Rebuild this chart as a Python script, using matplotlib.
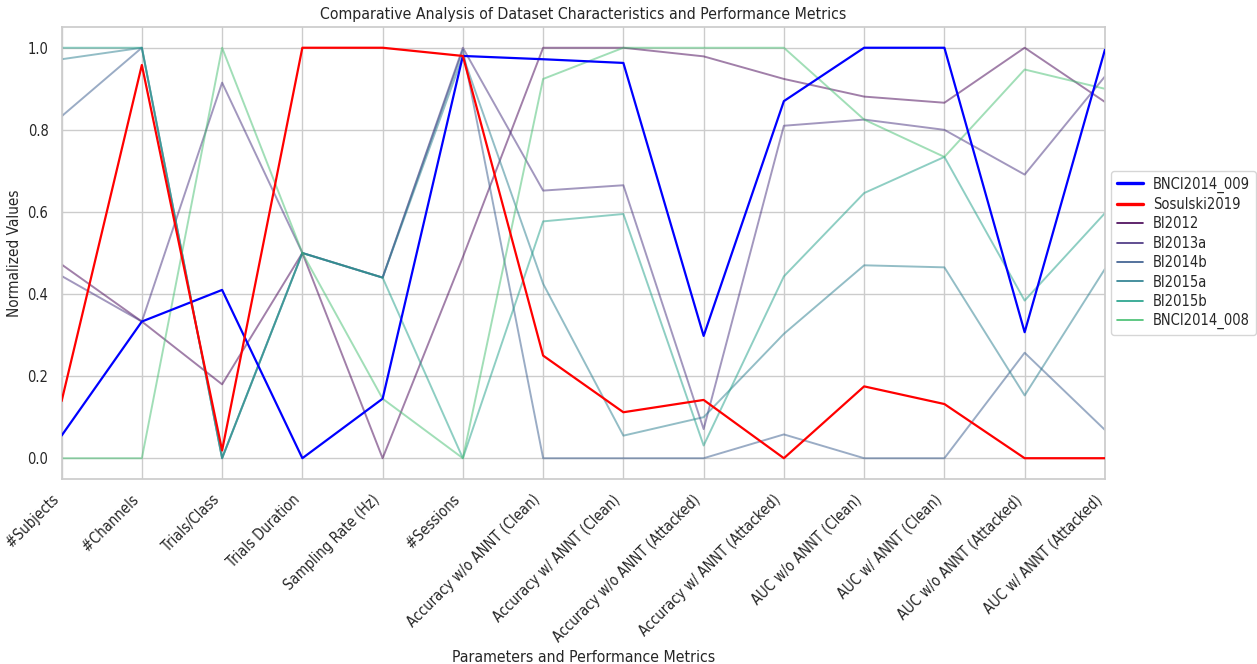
import matplotlib
matplotlib.use("Agg")
import matplotlib.pyplot as plt
import seaborn as sns
import numpy as np
from matplotlib.lines import Line2D

# Data (normalized values)

METRICS = ['#Subjects', '#Channels', 'Trials/Class', 'Trials Duration', 'Sampling Rate (Hz)',
           '#Sessions', 'Accuracy w/o ANNT (Clean)', 'Accuracy w/ ANNT (Clean)',
           'Accuracy w/o ANNT (Attacked)', 'Accuracy w/ ANNT (Attacked)',
           'AUC w/o ANNT (Clean)', 'AUC w/ ANNT (Clean)',
           'AUC w/o ANNT (Attacked)', 'AUC w/ ANNT (Attacked)']

BNCI2014_009 = [0.055, 0.333, 0.41, 0.0, 0.145, 0.98, 0.972, 0.963, 0.298, 0.87, 1.0, 1.0, 0.307, 0.995]
Sosulski2019 = [0.139, 0.958, 0.019, 1.0, 1.0, 0.98, 0.25, 0.112, 0.142, 0.0, 0.175, 0.132, 0.0, 0.0]
BI2012 = [0.472, 0.333, 0.18, 0.5, 0.0, 0.49, 1.0, 1.0, 0.979, 0.924, 0.881, 0.866, 1.0, 0.868]
BI2013a = [0.444, 0.333, 0.915, 0.5, 0.44, 1.0, 0.652, 0.665, 0.071, 0.81, 0.825, 0.8, 0.691, 0.93]
BI2014b = [0.833, 1.0, 0.0, 0.5, 0.44, 0.995, 0.0, 0.0, 0.0, 0.058, 0.0, 0.0, 0.257, 0.069]
BI2015a = [0.972, 1.0, 0.0, 0.5, 0.44, 0.98, 0.425, 0.055, 0.1, 0.303, 0.47, 0.465, 0.153, 0.461]
BI2015b = [1.0, 1.0, 0.0, 0.5, 0.44, 0.0, 0.577, 0.595, 0.031, 0.443, 0.646, 0.734, 0.384, 0.597]
BNCI2014_008 = [0.0, 0.0, 1.0, 0.5, 0.145, 0.0, 0.924, 1.0, 1.0, 1.0, 0.825, 0.734, 0.947, 0.9]

highlighted = {'BNCI2014_009': (BNCI2014_009, 'blue'),
               'Sosulski2019': (Sosulski2019, 'red')}
others = {'BI2012': BI2012, 'BI2013a': BI2013a, 'BI2014b': BI2014b,
          'BI2015a': BI2015a, 'BI2015b': BI2015b, 'BNCI2014_008': BNCI2014_008}

sns.set_theme(style="whitegrid")
plt.rcParams['font.family'] = ['DejaVu Sans']
plt.rcParams['font.stretch'] = 'condensed'

fig = plt.figure(figsize=(12.57, 6.64), dpi=100)
ax = fig.add_axes([0.049, 0.279, 0.830, 0.680])

x = np.arange(len(METRICS))
other_colors = plt.cm.viridis(np.linspace(0, 0.7, len(others)))

handles = []
for name, (vals, col) in highlighted.items():
    ax.plot(x, vals, color=col, linewidth=1.6, zorder=3)
    handles.append(Line2D([0], [0], color=col, linewidth=2.4, label=name))

for (name, vals), col in zip(others.items(), other_colors):
    ax.plot(x, vals, color=col, linewidth=1.4, alpha=0.5, zorder=2)
    handles.append(Line2D([0], [0], color=col, linewidth=1.2, label=name))

ax.set_xlim(0, len(METRICS) - 1)
ax.set_ylim(-0.05, 1.05)
ax.set_xticks(x)
ax.set_xticklabels(METRICS, rotation=45, ha='right', fontsize=10.5)
ax.tick_params(axis='y', labelsize=10.5)
for s in ax.spines.values():
    s.set_color('#cccccc')

ax.set_title('Comparative Analysis of Dataset Characteristics and Performance Metrics', fontsize=11.3)
ax.set_xlabel('Parameters and Performance Metrics', fontsize=11.3)
ax.set_ylabel('Normalized Values', fontsize=11)

ax.legend(handles=handles, loc='center left', bbox_to_anchor=(1.0, 0.5), fontsize=10.5,
          frameon=True, borderaxespad=0.4, handlelength=1.8, handletextpad=0.7, labelspacing=0.3)

fig.savefig('out.png', dpi=100)
